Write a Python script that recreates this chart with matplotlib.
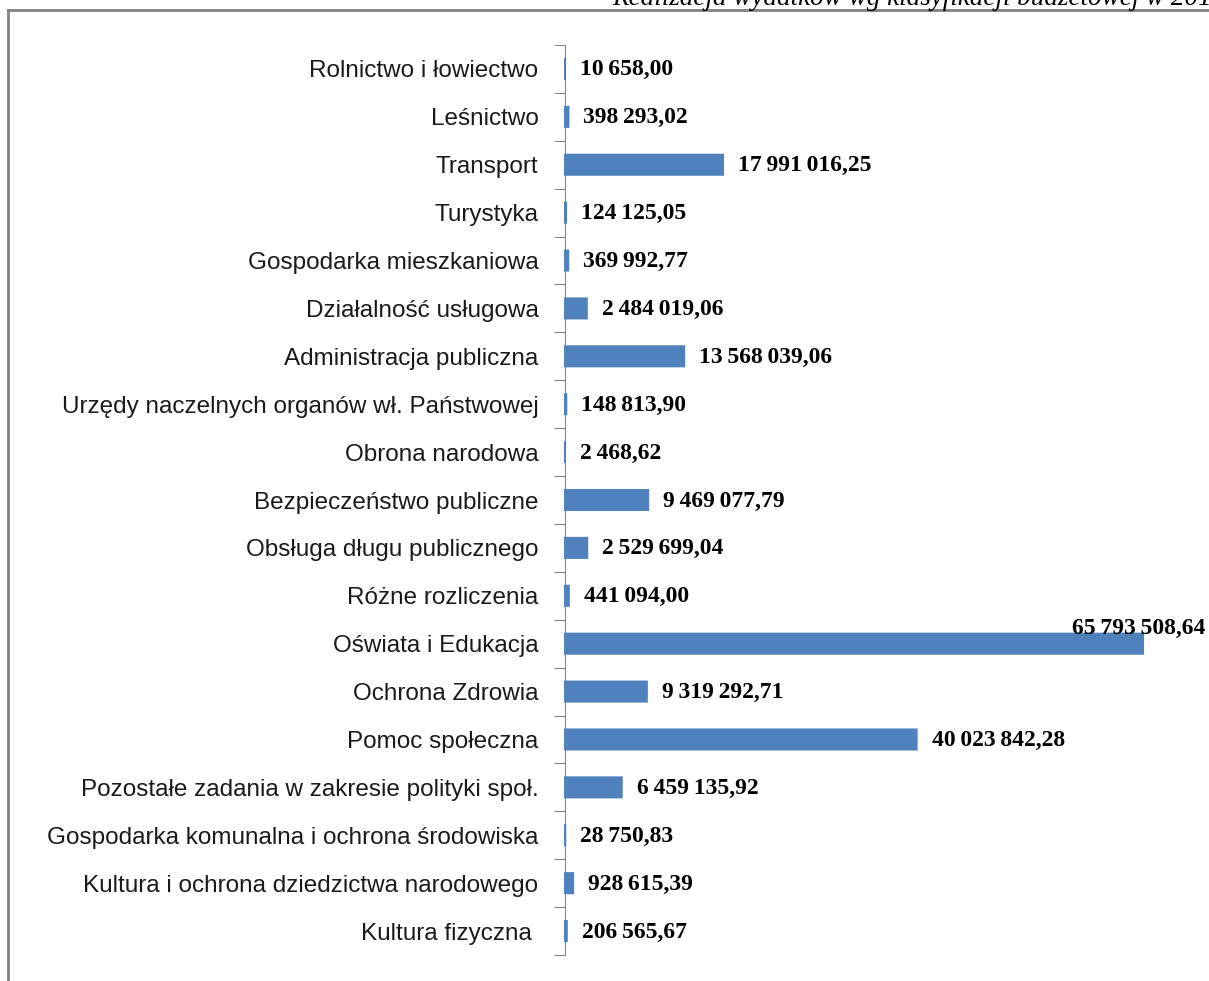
import matplotlib.pyplot as plt
from matplotlib.lines import Line2D

categories = [
    "Rolnictwo i łowiectwo",
    "Leśnictwo",
    "Transport",
    "Turystyka",
    "Gospodarka mieszkaniowa",
    "Działalność usługowa",
    "Administracja publiczna",
    "Urzędy naczelnych organów wł. Państwowej",
    "Obrona narodowa",
    "Bezpieczeństwo publiczne",
    "Obsługa długu publicznego",
    "Różne rozliczenia",
    "Oświata i Edukacja",
    "Ochrona Zdrowia",
    "Pomoc społeczna",
    "Pozostałe zadania w zakresie polityki społ.",
    "Gospodarka komunalna i ochrona środowiska",
    "Kultura i ochrona dziedzictwa narodowego",
    "Kultura fizyczna ",
]
values = [10658.00, 398293.02, 17991016.25, 124125.05, 369992.77, 2484019.06,
          13568039.06, 148813.90, 2468.62, 9469077.79, 2529699.04, 441094.00,
          65793508.64, 9319292.71, 40023842.28, 6459135.92, 28750.83,
          928615.39, 206565.67]
title = "Realizacja wydatków wg klasyfikacji budżetowej w 2012"


def fmt(v):
    s = f"{v:,.2f}"
    return s.replace(",", "\u2009").replace(".", ",")


fig = plt.figure(figsize=(12.09, 9.81), dpi=100)
ax = fig.add_axes([565 / 1209, 1 - 955 / 981, (1180 - 565) / 1209, 910 / 981])

n = len(categories)
pos = list(range(n))
bars = ax.barh(pos, values, height=0.42, color="#4F81BD", edgecolor="#4F81BD",
               linewidth=1.4, zorder=3)
for b in bars:
    b.set_snap(False)
    b.set_clip_on(False)
ax.set_ylim(n - 0.5, -0.5)
ax.set_xlim(0, 70e6)

for sp in ["top", "right", "bottom"]:
    ax.spines[sp].set_visible(False)
ax.spines["left"].set_color("#868686")
ax.set_xticks([])

ax.set_yticks([p - 0.5 for p in pos] + [n - 0.5])
ax.set_yticklabels([])
ax.tick_params(axis="y", which="major", length=8, color="#868686", direction="out")
ax.set_yticks(pos, minor=True)
ax.set_yticklabels(categories, minor=True, fontsize=17.5, family="Liberation Sans",
                   color="#1a1a1a")
ax.tick_params(axis="y", which="minor", length=0, pad=19)

vmax = max(values)
for p, v in zip(pos, values):
    if v == vmax:
        ax.annotate(fmt(v), (v, p), xytext=(62, 15), textcoords="offset pixels",
                    ha="right", va="center", fontsize=17, fontweight="bold",
                    family="Liberation Serif")
    else:
        ax.annotate(fmt(v), (v, p), xytext=(15, -1), textcoords="offset pixels",
                    ha="left", va="center", fontsize=17, fontweight="bold",
                    family="Liberation Serif")

# page frame
fig.add_artist(Line2D([8 / 1209, 8 / 1209], [0, 1 - 10 / 981], color="#808080", lw=2))
fig.add_artist(Line2D([8 / 1209, 1], [1 - 10 / 981, 1 - 10 / 981], color="#808080", lw=2))
fig.text(612 / 1209, 1 - 5 / 981, title, ha="left", va="baseline", fontsize=19.5,
         style="italic", family="Liberation Serif")

fig.savefig("out.png", dpi=100)
